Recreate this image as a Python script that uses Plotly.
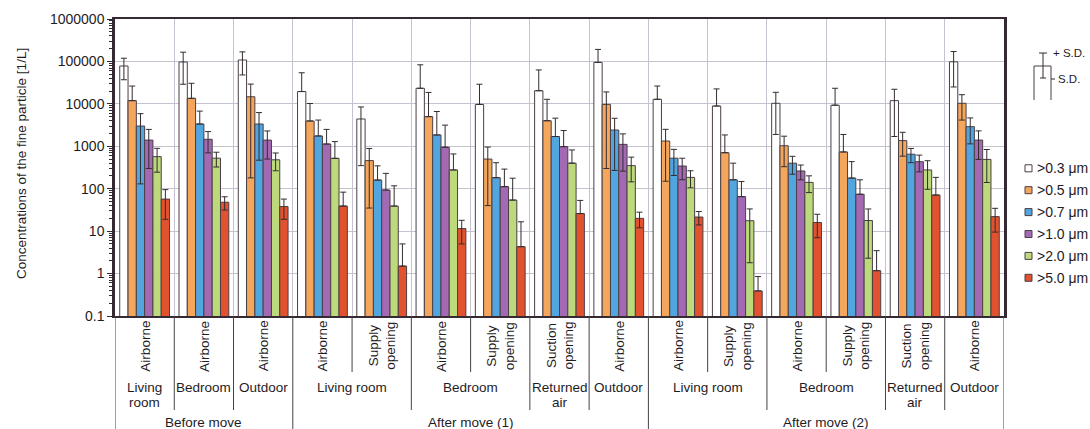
import plotly.graph_objects as go

# ---- categories (three-level x axis) ----
phase = ["Before move"] * 3 + ["After move (1)"] * 6 + ["After move (2)"] * 6
location = ["Living\nroom", "Bedroom", "Outdoor",
            "Living room", "Living room", "Bedroom", "Bedroom", "Returned\nair", "Outdoor",
            "Living room", "Living room", "Bedroom", "Bedroom", "Returned\nair", "Outdoor"]
point = ["Airborne", "Airborne", "Airborne",
         "Airborne", "Supply\nopening", "Airborne", "Supply\nopening", "Suction\nopening", "Airborne",
         "Airborne", "Supply\nopening", "Airborne", "Supply\nopening", "Suction\nopening", "Airborne"]

# ---- particle size classes ----
size_labels = [">0.3 μm", ">0.5 μm", ">0.7 μm", ">1.0 μm", ">2.0 μm", ">5.0 μm"]

# ---- mean concentrations [1/L] ----
mean_03 = [78000, 97000, 108000, 19500, 4400, 23300, 9700, 20400, 95000, 12800, 8900, 10300, 9300, 11900, 98000]
mean_05 = [11900, 13500, 14700, 3950, 460, 5000, 500, 4000, 9700, 1330, 705, 1030, 735, 1360, 10300]
mean_07 = [3000, 3350, 3350, 1750, 160, 1850, 182, 1700, 2420, 525, 162, 400, 178, 650, 2900]
mean_10 = [1400, 1460, 1400, 1130, 93, 950, 112, 980, 1110, 343, 65, 262, 74, 434, 1400]
mean_20 = [570, 525, 480, 520, 39, 277, 54, 400, 350, 185, 17.6, 141, 17.8, 277, 490]
mean_50 = [57, 48, 38, 39, 1.5, 11.5, 4.3, 26, 20, 21.5, 0.39, 16, 1.17, 71, 22]

# ---- standard deviations [1/L] ----
sd_03 = [41000, 68000, 60000, 34500, 4050, 60000, 19300, 42600, 97000, 13500, 13600, 8400, 14000, 10200, 73000]
sd_05 = [14400, 17000, 14520, 6250, 425, 13600, 460, 8800, 9400, 1180, 1145, 700, 1165, 775, 6150]
sd_07 = [2870, 3400, 2880, 2400, 186, 4750, 228, 2900, 2150, 320, 238, 180, 257, 240, 1760]
sd_10 = [1100, 760, 900, 1370, 137, 2200, 178, 1370, 850, 180, 83, 100, 88, 185, 910]
sd_20 = [325, 200, 215, 770, 78, 383, 123, 420, 205, 80, 15.8, 60, 15.5, 180, 350]
sd_50 = [38, 16.5, 19, 44, 3.5, 6.5, 12.3, 27, 8, 7.5, 0.46, 9, 2.3, 114, 12.5]

# ---- y axis ticks ----
y_tickvals = [0.1, 1, 10, 100, 1000, 10000, 100000, 1000000]
y_ticktext = ["0.1", "1", "10", "100", "1000", "10000", "100000", "1000000"]

means = [mean_03, mean_05, mean_07, mean_10, mean_20, mean_50]
sds = [sd_03, sd_05, sd_07, sd_10, sd_20, sd_50]

# ---- styling ----
FONT = "Liberation Sans, Arial, sans-serif"
TXT = "#1f1c1f"
FRAME = "#352a33"
GRID = "#c4c3cf"
EDGE = "#4a3f46"
ERR = "#332c30"
bar_colors = ["#ffffff", "#f4a65c", "#52a6df", "#a36ab3", "#bcd97c", "#e2522e"]

# plot-area pixel box
W, H = 1090, 429
PL, PR, PT, PB = 115, 1004, 19, 316


def fx(px):
    return (px - PL) / (PR - PL)


def fy(py):
    return (PB - py) / (PB - PT)


fig = go.Figure()
xs = list(range(len(phase)))
for lab, col, m, s in zip(size_labels, bar_colors, means, sds):
    # the lower whisker is omitted when it would fall below zero
    minus = [sv if sv < mv else 0 for mv, sv in zip(m, s)]
    fig.add_bar(
        x=xs, y=m, name=lab, showlegend=False,
        marker=dict(color=col, line=dict(color=EDGE, width=1)),
        error_y=dict(type="data", array=s, arrayminus=minus, symmetric=False,
                     color=ERR, thickness=1, width=3),
    )

shapes = []
annotations = []

# separators under the x axis: deeper for higher-level boundaries
n = len(phase)
for b in range(n + 1):
    if b == 0 or b == n or phase[b - 1] != phase[b]:
        bottom = 429
    elif location[b - 1] != location[b]:
        bottom = 410
    else:
        bottom = 372
    shapes.append(dict(type="line", xref="x", yref="paper", x0=b - 0.5, x1=b - 0.5,
                       y0=fy(PB), y1=fy(bottom), line=dict(color="#45414a", width=1)))

# level 1: sampling point (rotated)
for i, p in enumerate(point):
    annotations.append(dict(x=i, y=fy(346), xref="x", yref="paper", text=p.replace("\n", "<br>"),
                            textangle=-90, showarrow=False, xanchor="center", yanchor="middle",
                            font=dict(size=13.5, color=TXT, family=FONT)))


def runs(keys):
    out = []
    start = 0
    for i in range(1, len(keys) + 1):
        if i == len(keys) or keys[i] != keys[start]:
            out.append((start, i - 1))
            start = i
    return out


# level 2: location
loc_keys = list(zip(phase, location))
for a, b in runs(loc_keys):
    for j, line in enumerate(location[a].split("\n")):
        annotations.append(dict(x=(a + b) / 2, y=fy(387 + 15 * j), xref="x", yref="paper", text=line,
                                showarrow=False, xanchor="center", yanchor="middle",
                                font=dict(size=13.5, color=TXT, family=FONT)))

# level 3: phase
for a, b in runs(phase):
    annotations.append(dict(x=(a + b) / 2, y=fy(422), xref="x", yref="paper", text=phase[a],
                            showarrow=False, xanchor="center", yanchor="middle",
                            font=dict(size=13.5, color=TXT, family=FONT)))

# y axis title
annotations.append(dict(x=fx(21), y=fy(164), xref="paper", yref="paper",
                        text="Concentrations of the fine particle [1/L]", textangle=-90,
                        showarrow=False, xanchor="center", yanchor="middle",
                        font=dict(size=13.5, color=TXT, family=FONT)))

# legend of size classes
for k, (lab, col) in enumerate(zip(size_labels, bar_colors)):
    cy = 168.3 + 21.9 * k
    shapes.append(dict(type="rect", xref="paper", yref="paper",
                       x0=fx(1025), x1=fx(1032), y0=fy(cy + 3.5), y1=fy(cy - 3.5),
                       fillcolor=col, line=dict(color=EDGE, width=1)))
    annotations.append(dict(x=fx(1035), y=fy(cy), xref="paper", yref="paper", text=lab,
                            showarrow=False, xanchor="left", yanchor="middle",
                            font=dict(size=14, color=TXT, family=FONT)))

# key for the error bars
key_line = dict(color=ERR, width=1)
shapes.append(dict(type="path", xref="paper", yref="paper",
                   path="M {a},{b} L {a},{c} L {d},{c} L {d},{b}".format(
                       a=fx(1034), b=fy(100), c=fy(66), d=fx(1051)),
                   line=dict(color=EDGE, width=1)))
shapes.append(dict(type="line", xref="paper", yref="paper", x0=fx(1043), x1=fx(1043),
                   y0=fy(53), y1=fy(78), line=key_line))
shapes.append(dict(type="line", xref="paper", yref="paper", x0=fx(1039), x1=fx(1047),
                   y0=fy(53), y1=fy(53), line=key_line))
shapes.append(dict(type="line", xref="paper", yref="paper", x0=fx(1040), x1=fx(1046),
                   y0=fy(78), y1=fy(78), line=key_line))
shapes.append(dict(type="line", xref="paper", yref="paper", x0=fx(1051), x1=fx(1055),
                   y0=fy(79), y1=fy(79), line=key_line))
annotations.append(dict(x=fx(1051), y=fy(53), xref="paper", yref="paper", text="+ S.D.",
                        showarrow=False, xanchor="left", yanchor="middle",
                        font=dict(size=11.5, color=TXT, family=FONT)))
annotations.append(dict(x=fx(1056), y=fy(79), xref="paper", yref="paper", text="S.D.",
                        showarrow=False, xanchor="left", yanchor="middle",
                        font=dict(size=11.5, color=TXT, family=FONT)))

fig.update_layout(
    width=W, height=H,
    margin=dict(l=PL, r=W - PR, t=PT, b=H - PB, pad=0),
    paper_bgcolor="white", plot_bgcolor="white",
    barmode="group", bargap=0.16, bargroupgap=0,
    font=dict(family=FONT, size=13, color=TXT),
    shapes=shapes, annotations=annotations,
    showlegend=False,
)
fig.update_xaxes(
    range=[-0.5, n - 0.5], tickvals=[i + 0.5 for i in range(n - 1)], showticklabels=False,
    ticks="", showgrid=True, gridcolor=GRID, gridwidth=1, zeroline=False,
    showline=True, linecolor=FRAME, linewidth=2, mirror=True,
)
fig.update_yaxes(
    type="log", range=[-1, 6], tickmode="array", tickvals=y_tickvals, ticktext=y_ticktext,
    ticks="outside", ticklen=5, tickwidth=1, tickcolor=FRAME,
    tickfont=dict(size=14, color=TXT, family=FONT),
    showgrid=True, gridcolor=GRID, gridwidth=1, zeroline=False,
    showline=True, linecolor=FRAME, linewidth=2.5, mirror=True,
    minor=dict(ticks="outside", ticklen=3, tickcolor=FRAME, dtick="D1", showgrid=False),
)

fig.write_html("out.html")
